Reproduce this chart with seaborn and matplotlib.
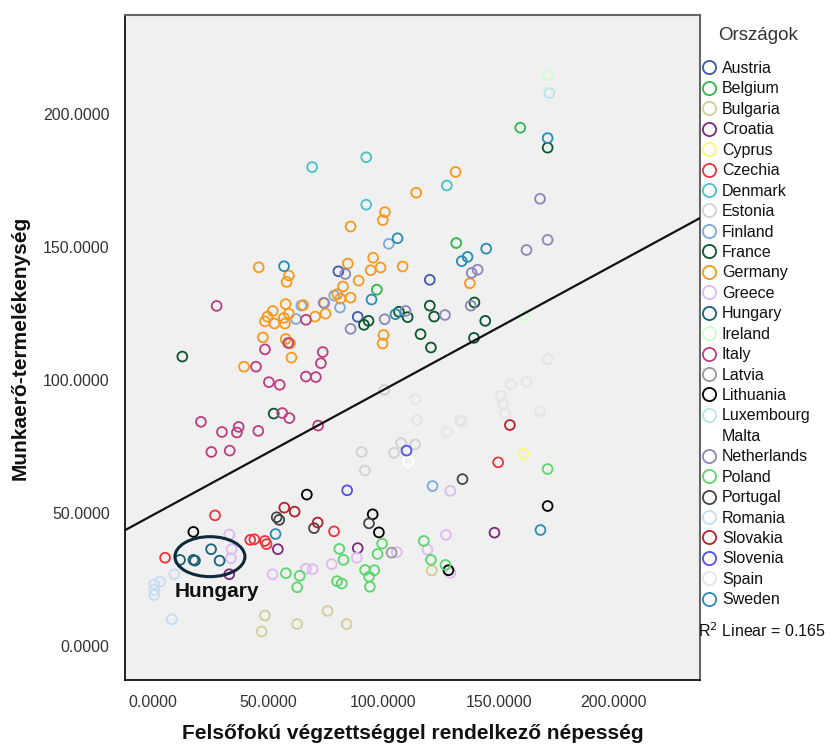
import pandas as pd
import seaborn as sns
import matplotlib
matplotlib.use("Agg")
import matplotlib.pyplot as plt
from matplotlib.lines import Line2D
from matplotlib.patches import Ellipse

# ------------------------------------------------------------
# Data: (felsőfokú végzettség, termelékenység)
# ------------------------------------------------------------
austria = [(80.4, 140.8), (88.8, 123.7), (120.1, 137.6)]
belgium = [(97.1, 133.9), (131.6, 151.4), (159.4, 194.7)]
bulgaria = [(48.5, 11.6), (47.1, 5.6), (62.5, 8.4), (75.7, 13.3), (84.0, 8.4), (121.0, 28.5)]
croatia = [(54.1, 36.5), (88.8, 36.9), (33.0, 27.1), (148.2, 42.7)]
cyprus = [(160.8, 72.3)]
czechia = [(26.8, 49.2), (78.5, 43.2), (42.1, 40.0), (43.9, 40.2), (48.5, 39.6),
           (49.2, 38.4), (5.1, 33.3), (149.8, 69.1)]
denmark = [(69.0, 179.9), (92.5, 183.6), (92.5, 165.8), (127.5, 173.0)]
estonia = [(100.3, 96.3), (107.6, 76.3), (90.5, 73.0), (104.6, 72.7), (91.9, 66.0), (113.7, 75.8)]
finland = [(102.3, 151.1), (78.6, 131.7), (81.1, 127.2), (64.3, 127.9), (62.0, 122.9), (121.3, 60.2)]
france = [(171.3, 187.2), (93.5, 122.2), (91.5, 120.7), (106.7, 125.6), (110.5, 123.6),
          (116.1, 117.2), (120.1, 127.9), (122.0, 123.8), (139.5, 129.1), (144.2, 122.2),
          (139.3, 115.8), (120.6, 112.2), (12.6, 108.8), (52.3, 87.4)]
germany = [(114.2, 170.3), (100.6, 163.0), (99.7, 160.0), (85.7, 157.6), (131.3, 178.1),
           (45.8, 142.3), (58.9, 139.2), (57.9, 136.8), (84.5, 143.7), (95.5, 145.9),
           (94.4, 141.2), (98.7, 142.2), (108.3, 142.6), (89.2, 137.3), (82.4, 135.1),
           (79.9, 132.2), (81.3, 130.6), (85.7, 130.9), (74.3, 128.8), (65.1, 128.1),
           (57.5, 128.5), (51.9, 125.9), (49.6, 123.8), (48.5, 122.0), (52.6, 121.2),
           (56.7, 123.3), (57.2, 121.2), (58.9, 124.9), (70.3, 123.8), (74.8, 124.9),
           (100.0, 116.9), (99.6, 113.7), (47.6, 116.0), (57.5, 115.4), (60.0, 108.4),
           (39.4, 105.0), (137.5, 136.3), (59.4, 113.8)]
greece = [(33.0, 42.0), (34.0, 36.5), (33.7, 33.1), (51.8, 27.1), (66.3, 29.2), (69.2, 29.0),
          (77.5, 30.9), (88.4, 33.3), (105.8, 35.4), (129.0, 58.4), (127.1, 41.9),
          (119.1, 36.3), (129.1, 27.6)]
hungary = [(11.6, 32.5), (17.4, 32.5), (18.1, 32.2), (25.1, 36.5), (28.8, 32.2)]
ireland = [(171.3, 214.5), (160.7, 124.3)]
italy = [(27.5, 127.8), (66.3, 122.6), (58.6, 113.9), (48.5, 111.5), (73.6, 110.5),
         (72.8, 106.3), (44.6, 105.0), (66.3, 101.3), (70.6, 101.1), (50.2, 99.2),
         (54.9, 98.2), (56.0, 87.6), (59.1, 85.7), (20.7, 84.3), (29.8, 80.5),
         (37.1, 82.4), (36.3, 80.3), (45.6, 80.9), (71.6, 82.9), (25.2, 73.0), (33.2, 73.5)]
latvia = [(103.5, 35.2)]
lithuania = [(66.7, 57.0), (95.3, 49.6), (98.0, 42.8), (17.4, 43.0), (171.3, 52.7), (128.2, 28.6)]
luxembourg = [(172.0, 207.7)]
malta = [(110.7, 69.4)]
netherlands = [(168.0, 168.0), (162.1, 148.8), (171.3, 152.6), (140.9, 141.4), (138.3, 140.2),
               (137.9, 127.9), (126.7, 124.4), (109.6, 125.9), (100.5, 122.8), (85.7, 119.2),
               (83.4, 139.8), (74.0, 129.0)]
poland = [(57.6, 27.5), (63.6, 26.5), (62.5, 22.2), (80.8, 36.6), (82.6, 32.5), (79.8, 24.5),
          (81.9, 23.6), (99.4, 38.6), (97.4, 34.7), (92.0, 28.7), (96.0, 28.6), (93.7, 26.2),
          (94.1, 22.4), (117.5, 39.6), (120.6, 32.5), (126.9, 30.6), (171.3, 66.6)]
portugal = [(53.6, 48.5), (54.7, 47.5), (69.8, 44.4), (93.7, 46.2), (134.3, 62.8)]
romania = [(9.1, 27.1), (2.9, 24.3), (0.4, 23.3), (0.4, 21.2), (0.4, 19.3), (8.0, 10.2)]
slovakia = [(56.9, 52.1), (61.4, 50.6), (71.4, 46.5), (154.9, 83.1)]
slovenia = [(110.0, 73.5), (84.2, 58.6)]
spain = [(113.9, 92.8), (114.6, 85.0), (171.3, 107.8), (155.3, 98.4), (162.1, 99.4),
         (151.0, 94.1), (152.0, 91.0), (152.8, 87.5), (167.9, 88.3), (133.2, 85.0),
         (133.9, 84.4), (127.5, 80.5)]
sweden = [(106.1, 153.2), (56.8, 142.7), (94.8, 130.2), (105.2, 124.7), (171.3, 190.8),
          (144.6, 149.3), (136.5, 146.2), (134.0, 144.6), (53.1, 42.2), (168.2, 43.7)]

countries = ["Austria", "Belgium", "Bulgaria", "Croatia", "Cyprus", "Czechia", "Denmark",
             "Estonia", "Finland", "France", "Germany", "Greece", "Hungary", "Ireland",
             "Italy", "Latvia", "Lithuania", "Luxembourg", "Malta", "Netherlands", "Poland",
             "Portugal", "Romania", "Slovakia", "Slovenia", "Spain", "Sweden"]

country_colors = ["#3E58AC", "#2EB848", "#D3CE97", "#7C287D", "#FBF873", "#EF3338", "#48C2C5",
                  "#D0D0D0", "#7AAAD5", "#0A562C", "#F8981D", "#DDBAF1", "#1A5F76", "#CCFFCC",
                  "#BB3F7F", "#999999", "#000000", "#B6E7E8", "#FFFFFF", "#8A86BC", "#5BD66B",
                  "#444444", "#C5DCF5", "#B3222A", "#5050F0", "#E4E4E4", "#2A8BB0"]

# linear fit shown on the chart
fit_intercept = 49.4
fit_slope = 0.469
r_squared = 0.165

x_ticks = [0, 50, 100, 150, 200]
y_ticks = [0, 50, 100, 150, 200]

# ------------------------------------------------------------
# Build long table
# ------------------------------------------------------------
all_points = [austria, belgium, bulgaria, croatia, cyprus, czechia, denmark, estonia,
              finland, france, germany, greece, hungary, ireland, italy, latvia,
              lithuania, luxembourg, malta, netherlands, poland, portugal,
              romania, slovakia, slovenia, spain, sweden]

rows = []
for name, pts in zip(countries, all_points):
    for px, py in pts:
        rows.append((name, px, py))
df = pd.DataFrame(rows, columns=["Ország", "felsofoku", "termelekenyseg"])

palette = dict(zip(countries, country_colors))

# ------------------------------------------------------------
# Plot
# ------------------------------------------------------------
sns.set_style("white")
plt.rcParams["font.family"] = ["Liberation Sans", "DejaVu Sans"]

fig = plt.figure(figsize=(8.3, 7.49), dpi=100)
ax = fig.add_axes([0.1506, 0.0921, 0.6928, 0.8879])
ax.set_facecolor("#F0F0F0")

sns.scatterplot(
    data=df,
    x="felsofoku",
    y="termelekenyseg",
    hue="Ország",
    hue_order=countries,
    palette=palette,
    s=50,
    legend=False,
    ax=ax,
)

# hollow circles
coll = ax.collections[0]
coll.set_edgecolors(coll.get_facecolors())
coll.set_facecolors("none")
coll.set_linewidths(1.3)

ax.axline((0, fit_intercept), slope=fit_slope, color="#111111", lw=1.6, zorder=3)

ax.set_xlim(-12.3, 237.5)
ax.set_ylim(-12.6, 237.0)
ax.set_xticks(x_ticks)
ax.set_yticks(y_ticks)
ax.set_xticklabels([f"{t:.4f}" for t in x_ticks])
ax.set_yticklabels([f"{t:.4f}" for t in y_ticks])
ax.tick_params(axis="both", direction="out", length=7, width=1.3,
               labelsize=11.5, labelcolor="#333333", color="#111111", pad=4)

for side in ["left", "bottom"]:
    ax.spines[side].set_color("#111111")
    ax.spines[side].set_linewidth(1.3)
for side in ["top", "right"]:
    ax.spines[side].set_color("#666666")
    ax.spines[side].set_linewidth(1.5)

ax.set_xlabel("Felsőfokú végzettséggel rendelkező népesség", fontsize=15,
              fontweight="bold", labelpad=10, color="#111111")
ax.set_ylabel("Munkaerő-termelékenység", fontsize=15, fontweight="bold",
              labelpad=10, color="#111111")

# Hungary annotation
ax.add_patch(Ellipse((24.6, 33.7), 30.4, 15.0, fill=False, edgecolor="#0E2A3A",
                     lw=2.2, zorder=4))
ax.text(27.5, 20.6, "Hungary", ha="center", va="center", fontsize=15,
        fontweight="bold", color="#111111")

# Legend
fig.text(758 / 830, 1 - 36 / 749, "Országok", ha="center", va="center",
         fontsize=13.5, color="#333333")
handles = [
    Line2D([], [], linestyle="none", marker="o", markersize=9.5,
           markerfacecolor="none", markeredgecolor=c, markeredgewidth=1.3)
    for c in country_colors
]
leg = fig.legend(handles, countries, loc="upper left",
                 bbox_to_anchor=(0.838, 0.927), frameon=False, fontsize=11.5,
                 handlelength=0.9, handletextpad=0.35,
                 labelspacing=0.34, borderaxespad=0)
for t in leg.get_texts():
    t.set_color("#111111")

fig.text(0.841, 0.158, "R$^2$ Linear = " + f"{r_squared:.3f}", fontsize=11.5,
         color="#111111", va="center")

fig.savefig("out.png", dpi=100, facecolor="white")
